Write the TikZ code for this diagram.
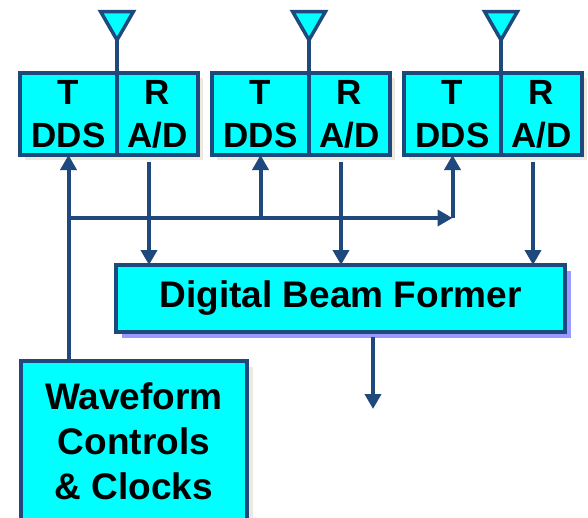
\documentclass[tikz,border=0pt]{standalone}
\usepackage{fontspec}
\setmainfont{Liberation Sans}
\usetikzlibrary{arrows.meta,positioning,shapes.geometric,shadows}
\definecolor{linkblue}{RGB}{31,73,125}
\definecolor{boxcyan}{RGB}{0,255,255}
\definecolor{shadebeige}{RGB}{236,233,222}
\definecolor{shadelilac}{RGB}{153,153,255}

\begin{document}
\begin{tikzpicture}[
    x=1pt, y=-1pt,
    half_t/.style={
      rectangle, draw=linkblue, fill=boxcyan, line width=4pt,
      inner sep=0pt, outer sep=0pt, minimum width=97pt, minimum height=82pt,
      font=\fontsize{35}{43}\selectfont\bfseries, align=center,
      drop shadow={shadow xshift=5pt, shadow yshift=-5pt, fill=shadebeige, opacity=1}
    },
    half_r/.style={
      half_t, minimum width=81pt
    },
    antenna/.style={
      regular polygon, regular polygon sides=3, shape border rotate=180,
      draw=linkblue, fill=boxcyan, line width=3.5pt,
      inner sep=0pt, outer sep=0pt, minimum size=38pt
    },
    bigbox/.style={
      rectangle, draw=linkblue, fill=boxcyan, line width=4pt,
      inner sep=0pt, outer sep=0pt, align=center,
      font=\fontsize{37}{45}\selectfont\bfseries
    },
    wire/.style={
      line width=4pt, draw=linkblue, -{Triangle[length=15pt,width=16pt]}
    },
    plain_wire/.style={
      line width=4pt, draw=linkblue
    }
  ]
  \useasboundingbox (0,0) rectangle (588,517);

  % --- T/R modules with antennas ---
  \node[half_t, anchor=north west] (T1) at (20,73) {T\\DDS};
  \node[half_r, right=0pt of T1] (R1) {R\\A/D};
  \node[antenna, above=33pt of T1.north east, anchor=corner 1] (A1) {};
  \draw[plain_wire] (A1.corner 1) -- (T1.north east);

  \node[half_t, anchor=north west] (T2) at (212,73) {T\\DDS};
  \node[half_r, right=0pt of T2] (R2) {R\\A/D};
  \node[antenna, above=33pt of T2.north east, anchor=corner 1] (A2) {};
  \draw[plain_wire] (A2.corner 1) -- (T2.north east);

  \node[half_t, anchor=north west] (T3) at (404,73) {T\\DDS};
  \node[half_r, right=0pt of T3] (R3) {R\\A/D};
  \node[antenna, above=33pt of T3.north east, anchor=corner 1] (A3) {};
  \draw[plain_wire] (A3.corner 1) -- (T3.north east);

  % --- Beam former and waveform box ---
  \node[bigbox, anchor=north west, minimum width=449pt, minimum height=67pt,
    drop shadow={shadow xshift=6pt, shadow yshift=-6pt, fill=shadelilac, opacity=1}]
    (BF) at (116,265) {Digital Beam Former};
  \node[bigbox, anchor=north west, minimum width=226pt, minimum height=160pt,
    drop shadow={shadow xshift=6pt, shadow yshift=-6pt, fill=shadebeige, opacity=1}]
    (WF) at (21,361) {Waveform\\Controls\\\& Clocks};

  % --- Clock bus to the T halves ---
  \coordinate (J1) at (T1.south |- 0,218);
  \coordinate (J3) at (T3.south |- J1);
  \draw[wire] (WF.north -| T1.south) -- (T1.south);
  \draw[wire] (J1) -- (J3);
  \draw[wire] (J3) -- (T3.south);
  \draw[wire] (T2.south |- J1) -- (T2.south);

  % --- R outputs into the beam former ---
  \coordinate[below left=7pt and 8.5pt of R1.south] (R1out);
  \coordinate[below left=7pt and 8.5pt of R2.south] (R2out);
  \coordinate[below left=7pt and 8.5pt of R3.south] (R3out);
  \draw[wire] (R1out) -- (R1out |- BF.north);
  \draw[wire] (R2out) -- (R2out |- BF.north);
  \draw[wire] (R3out) -- (R3out |- BF.north);

  % --- Beam former output ---
  \coordinate[below right=5pt and 32.5pt of BF.south] (BFout);
  \coordinate[below=72pt of BFout] (Out);
  \draw[wire] (BFout) -- (Out);
\end{tikzpicture}
\end{document}
